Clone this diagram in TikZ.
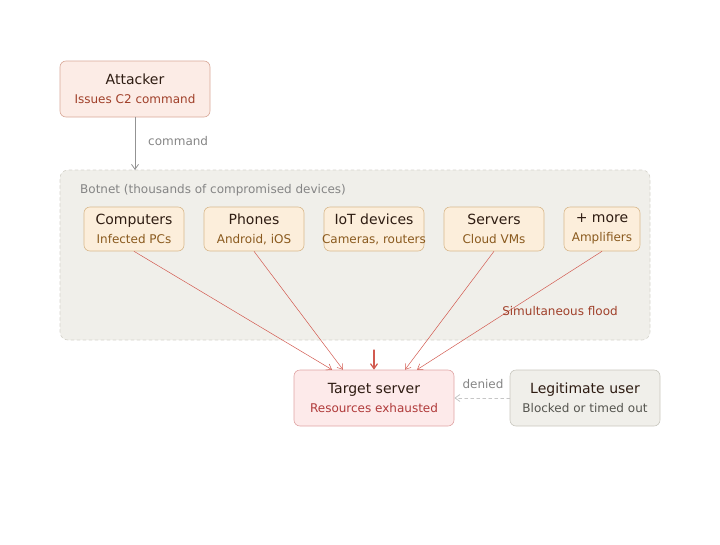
\documentclass[tikz,border=0pt]{standalone}
\usepackage{fontspec}
\setmainfont{DejaVu Sans}
\usetikzlibrary{arrows.meta}
\usepackage{xcolor}
\definecolor{attfill}{HTML}{FCECE6}
\definecolor{attline}{HTML}{D8A898}
\definecolor{attsub}{HTML}{A0402A}
\definecolor{devfill}{HTML}{FCEEDB}
\definecolor{devline}{HTML}{D9B98C}
\definecolor{devsub}{HTML}{8A5A1E}
\definecolor{netfill}{HTML}{F0EFEA}
\definecolor{netline}{HTML}{D5D3CB}
\definecolor{tgtfill}{HTML}{FDEAEA}
\definecolor{tgtline}{HTML}{E0A4A4}
\definecolor{tgtsub}{HTML}{B03A3A}
\definecolor{usrline}{HTML}{C9C7BE}
\definecolor{usrsub}{HTML}{55554F}
\definecolor{titletext}{HTML}{2E1C12}
\definecolor{flood}{HTML}{D25A50}
\definecolor{labelgray}{HTML}{858585}
\newcommand{\subline}[2]{{\color{#1}\fontsize{12}{19}\selectfont\makebox[0pt]{#2}}}
\begin{document}
\begin{tikzpicture}[x=1pt,y=-1pt,>={Straight Barb[length=5pt,width=7pt]},line cap=round,
  box/.style={draw,rounded corners=6pt,align=center,inner sep=0pt,line width=0.6pt,
    text=titletext,font=\fontsize{14}{19}\selectfont},
  devbox/.style={box,fill=devfill,draw=devline,minimum width=100,minimum height=44},
  lbl/.style={text=labelgray,font=\fontsize{12}{14}\selectfont,inner sep=0pt},
  floodarrow/.style={->,draw=flood,line width=0.5pt}]
\useasboundingbox (0,0) rectangle (720,544);
% botnet area
\node[draw=netline,fill=netfill,dashed,rounded corners=8pt,line width=0.6pt,
  minimum width=590,minimum height=170,inner sep=0pt] (botnet) at (355,255) {};
\node[lbl,anchor=west] (botlabel) at (80,190) {Botnet (thousands of compromised devices)};
% attacker
\node[box,fill=attfill,draw=attline,minimum width=150,minimum height=56] (attacker) at (135,89)
  {Attacker\\\subline{attsub}{Issues C2 command}};
\draw[->,draw=gray!85,line width=0.8pt] (attacker.south) -- (135,170) coordinate (cmdend);
\node[lbl,anchor=west] (cmdlabel) at (148,141) {command};
% devices
\node[devbox] (computers) at (134,229) {Computers\\\subline{devsub}{Infected PCs}};
\node[devbox] (phones) at (254,229) {Phones\\\subline{devsub}{Android, iOS}};
\node[devbox] (iot) at (374,229) {IoT devices\\\subline{devsub}{Cameras, routers}};
\node[devbox] (servers) at (494,229) {Servers\\\subline{devsub}{Cloud VMs}};
\node[devbox,minimum width=76] (more) at (602,229) {+ more\\\subline{devsub}{Amplifiers}};
% target and user
\node[box,fill=tgtfill,draw=tgtline,minimum width=160,minimum height=56] (target) at (374,398)
  {Target server\\\subline{tgtsub}{Resources exhausted}};
\node[box,fill=netfill,draw=usrline,minimum width=150,minimum height=56] (legit) at (585,398)
  {Legitimate user\\\subline{usrsub}{Blocked or timed out}};
% flood
\draw[floodarrow] (computers.south) -- ([xshift=-42pt]target.north);
\draw[floodarrow] (phones.south) -- ([xshift=-31pt]target.north);
\draw[floodarrow] (servers.south) -- ([xshift=31pt]target.north);
\draw[floodarrow] (more.south) -- ([xshift=43pt]target.north);
\coordinate (floodtop) at (374,350);
\draw[->,draw=flood,line width=1.2pt] (floodtop) -- (target.north);
\node[lbl,text=attsub] (floodlabel) at (560,311) {Simultaneous flood};
% denied
\draw[->,dashed,draw=gray!45,line width=0.8pt] (legit.west) -- (target.east);
\node[lbl] (deniedlabel) at (483,384) {denied};
\end{tikzpicture}
\end{document}
